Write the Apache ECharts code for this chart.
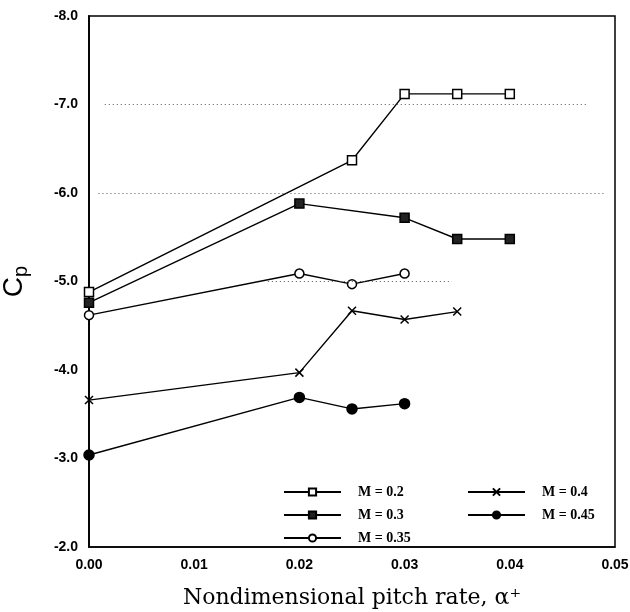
<!DOCTYPE html>
<html>
<head>
<meta charset="utf-8">
<script src="https://cdn.jsdelivr.net/npm/echarts@6/dist/echarts.min.js"></script>
<style>html,body{margin:0;padding:0;background:#fff;}#c{width:630px;height:612px;}</style>
</head>
<body>
<div id="c"></div>
<script>
var xTicks = [0, 0.01, 0.02, 0.03, 0.04, 0.05];
var yTicks = [-8, -7, -6, -5, -4, -3, -2];
var seriesNames = ['M = 0.2', 'M = 0.3', 'M = 0.35', 'M = 0.4', 'M = 0.45'];
var m02 = [[0, -4.88], [0.025, -6.37], [0.03, -7.12], [0.035, -7.12], [0.04, -7.12]];
var m03 = [[0, -4.76], [0.02, -5.88], [0.03, -5.72], [0.035, -5.48], [0.04, -5.48]];
var m035 = [[0, -4.62], [0.02, -5.09], [0.025, -4.97], [0.03, -5.09]];
var m04 = [[0, -3.66], [0.02, -3.97], [0.025, -4.67], [0.03, -4.57], [0.035, -4.66]];
var m045 = [[0, -3.04], [0.02, -3.69], [0.025, -3.56], [0.03, -3.62]];
var gridLines = [[0.0015, 0.0474, -7], [0.0009, 0.049, -6], [0.017, 0.0345, -5]];

var chart = echarts.init(document.getElementById('c'));
var lineStyle = {color: '#000', width: 1.4};
function mk(name, data, symbol, fill, size) {
  return {
    name: name, type: 'line', data: data, symbol: symbol, symbolSize: size,
    showSymbol: true,
    lineStyle: lineStyle,
    itemStyle: {color: fill, borderColor: '#000', borderWidth: 1.5},
    emphasis: {disabled: true},
    animation: false, z: 3
  };
}
var series = [
  {
    type: 'line', data: [], silent: true, animation: false,
    markLine: {
      silent: true, symbol: 'none', label: {show: false},
      lineStyle: {color: '#555', type: [1, 3], width: 1},
      data: gridLines.map(function (g) { return [{coord: [g[0], g[2]]}, {coord: [g[1], g[2]]}]; })
    }
  },
  mk(seriesNames[0], m02, 'rect', '#fff', 9),
  mk(seriesNames[1], m03, 'rect', '#222', 9),
  mk(seriesNames[2], m035, 'circle', '#fff', 9),
  mk(seriesNames[3], m04, 'path://M0,0L10,10M10,0L0,10', 'none', 8),
  mk(seriesNames[4], m045, 'circle', '#000', 10)
];

var legendText = {fontFamily: 'Liberation Serif', fontWeight: 'bold', fontSize: 14, color: '#000', padding: [0, 0, 0, 12]};
var tickFont = {fontFamily: 'Liberation Sans Narrow, Liberation Sans', fontWeight: 'bold', fontSize: 14, color: '#000', margin: 11};
chart.setOption({
  backgroundColor: '#fff',
  animation: false,
  grid: {left: 89, right: 15, top: 16, bottom: 65, containLabel: false, outerBoundsMode: 'none', show: true, borderColor: '#000', borderWidth: 1.5, backgroundColor: 'transparent'},
  legend: [
    {data: seriesNames.slice(0, 3), orient: 'vertical', left: 278, top: 480, itemWidth: 57, itemHeight: 9, itemGap: 9, textStyle: legendText, selectedMode: false},
    {data: seriesNames.slice(3), orient: 'vertical', left: 462, top: 480, itemWidth: 57, itemHeight: 9, itemGap: 9, textStyle: legendText, selectedMode: false}
  ],
  xAxis: {
    type: 'value', min: xTicks[0], max: xTicks[xTicks.length - 1], interval: 0.01,
    axisLine: {show: true, lineStyle: {color: '#000', width: 1.5}},
    axisTick: {show: false},
    splitLine: {show: false},
    axisLabel: Object.assign({formatter: function (v) { return v.toFixed(2); }}, tickFont),
    name: 'Nondimensional pitch rate, α⁺', nameLocation: 'middle', nameGap: 40,
    nameTextStyle: {fontFamily: 'DejaVu Serif', fontSize: 22, color: '#000'}
  },
  yAxis: {
    type: 'value', min: yTicks[0], max: yTicks[yTicks.length - 1], interval: 1, inverse: true,
    axisLine: {show: true, lineStyle: {color: '#000', width: 1.8}},
    axisTick: {show: false},
    splitLine: {show: false},
    axisLabel: Object.assign({formatter: function (v) { return v.toFixed(1); }}, tickFont),
    name: '{c|C}{p|p}', nameLocation: 'middle', nameGap: 58, nameRotate: 90,
    nameTextStyle: {rich: {c: {fontFamily: 'Liberation Sans', fontSize: 28, color: '#000'}, p: {fontFamily: 'Liberation Sans', fontSize: 20, color: '#000', padding: [14, 0, 0, 0]}}}
  },
  series: series
});
</script>
</body>
</html>
